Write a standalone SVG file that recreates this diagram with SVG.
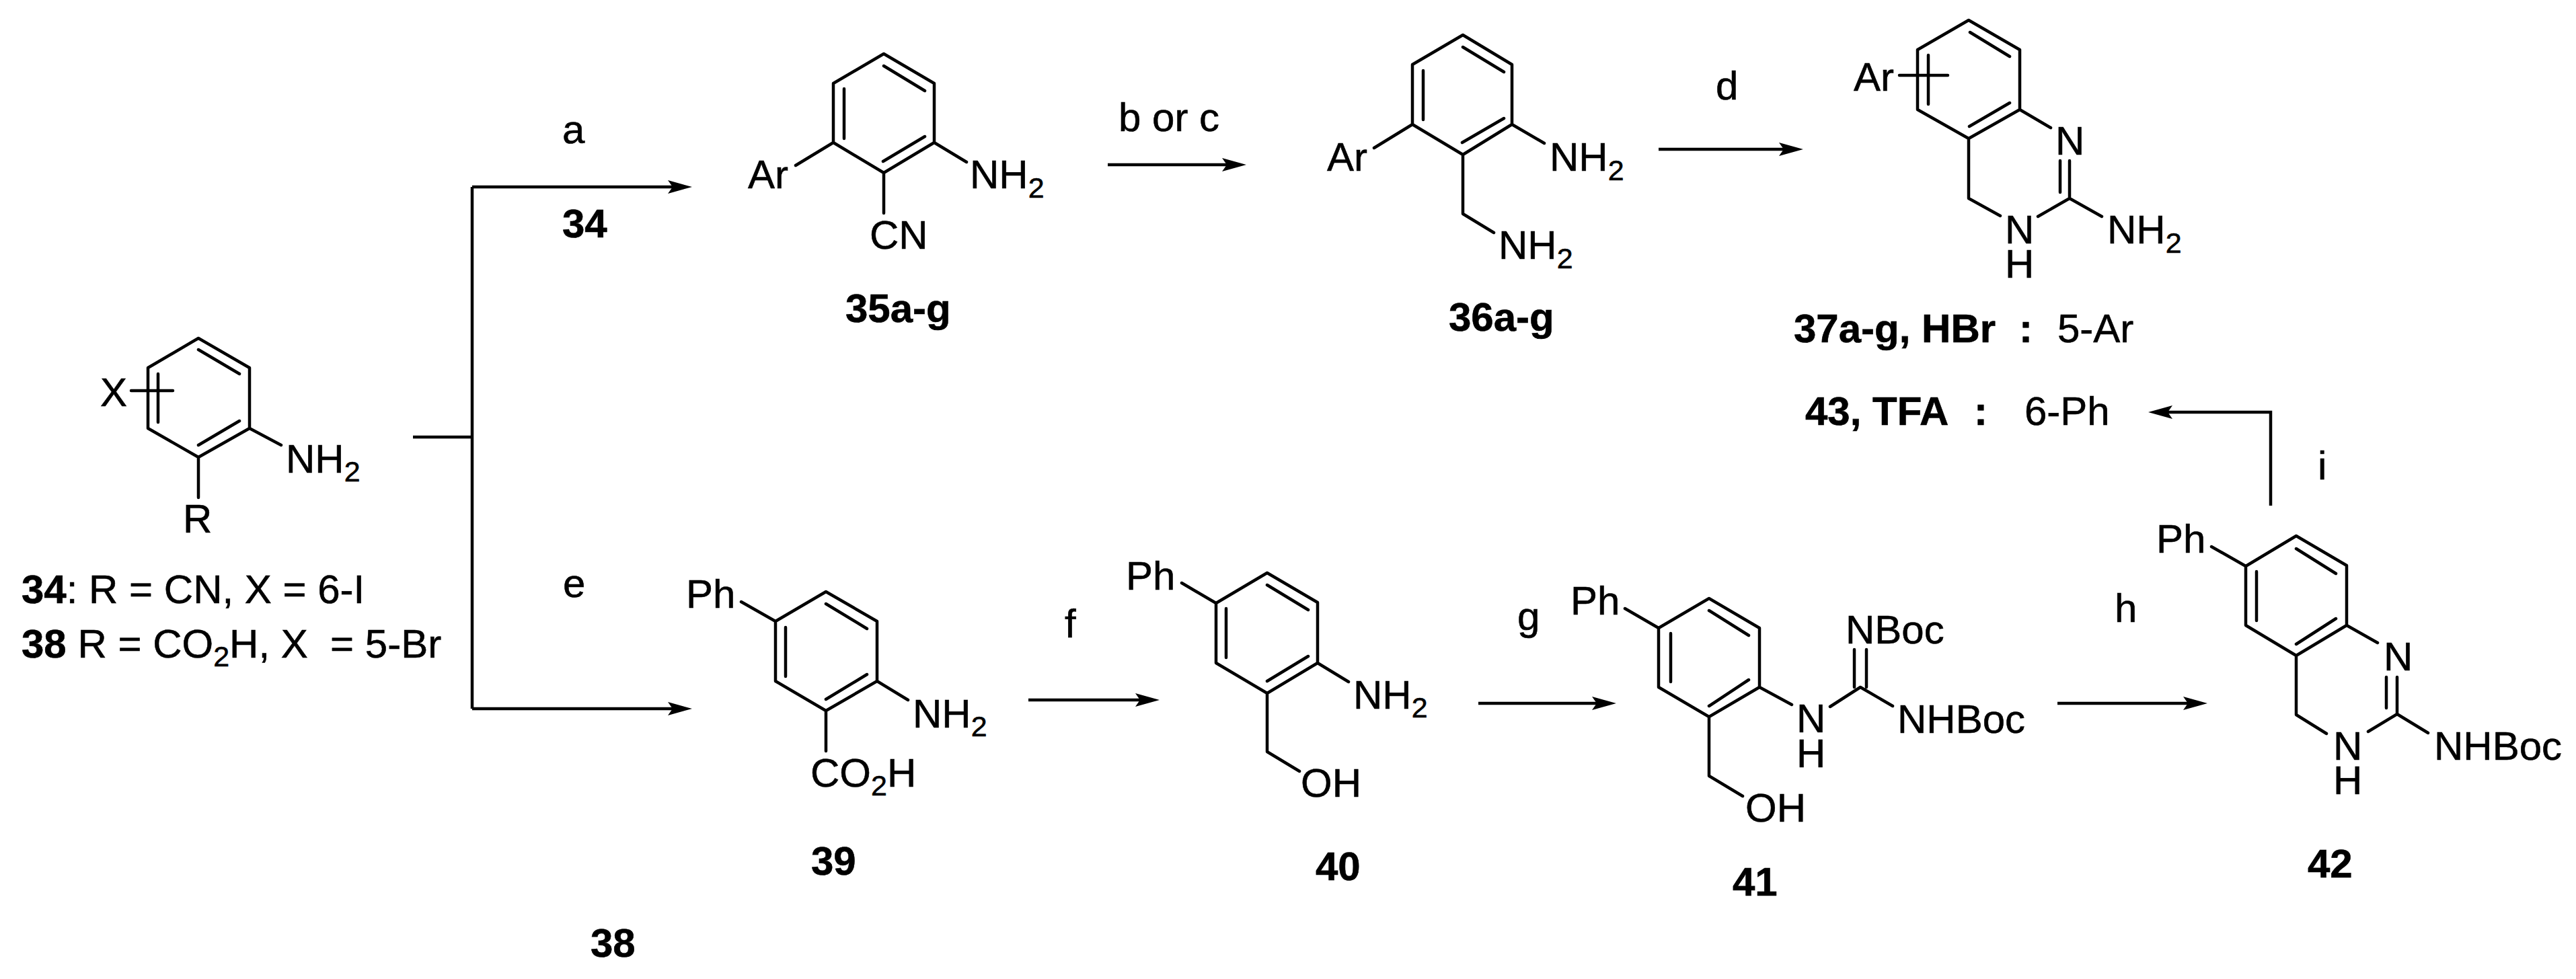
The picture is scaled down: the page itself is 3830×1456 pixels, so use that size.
<svg xmlns="http://www.w3.org/2000/svg" width="3830" height="1456" viewBox="0 0 3830 1456">
<style>
text{font-family:"Liberation Sans",Arial,sans-serif;font-size:60px;fill:#000;stroke:#000;stroke-width:.6;white-space:pre}
.l{font-weight:bold}
.s{font-size:43px}
.b{fill:none;stroke:#000;stroke-width:4.5;stroke-linejoin:round;stroke-linecap:round}
.c{fill:none;stroke:#000;stroke-width:4.5}
</style>
<defs>
<marker id="ah" markerUnits="userSpaceOnUse" markerWidth="38" markerHeight="24" refX="16" refY="11" orient="auto"><path d="M0,1 L36,11 L0,21 L7,11 Z" fill="#000"/></marker>
</defs>
<rect width="3830" height="1456" fill="#fff"/>
<g id="connectors">
<path class="c" d="M614,650H702"/>
<path class="c" d="M702,278V1054"/>
<path class="c" d="M702,278H1009" marker-end="url(#ah)"/>
<path class="c" d="M702,1054H1009" marker-end="url(#ah)"/>
<path class="c" d="M1647,245H1833" marker-end="url(#ah)"/>
<path class="c" d="M2466,222H2661" marker-end="url(#ah)"/>
<path class="c" d="M3376,752V613H3214" marker-end="url(#ah)"/>
<path class="c" d="M1529,1041H1704" marker-end="url(#ah)"/>
<path class="c" d="M2198,1046H2383" marker-end="url(#ah)"/>
<path class="c" d="M3059,1046H3262" marker-end="url(#ah)"/>
</g>
<g id="step-labels">
<text x="836" y="213">a</text>
<text x="1663" y="195">b or c</text>
<text x="2551" y="148">d</text>
<text x="837" y="888">e</text>
<text x="1583" y="948">f</text>
<text x="2256" y="937">g</text>
<text x="3144" y="925">h</text>
<text x="3446" y="713">i</text>
<text class="l" x="836" y="353">34</text>
<text class="l" x="878" y="1423">38</text>
</g>
<g id="n34">
<path class="b" d="M295,503L371,547L371,637L295,680L220,637L220,547Z M295,520L356,556 M295,662L356,626 M235,556V628 M195,581H257 M371,637L418,662 M295,680V740"/>
<text x="149" y="604">X</text>
<text x="425" y="703">NH<tspan class="s" dy="13">2</tspan></text>
<text x="272" y="792">R</text>
<text x="32" y="897"><tspan class="l">34</tspan>: R = CN, X = 6-I</text>
<text x="32" y="978"><tspan class="l">38</tspan> R = CO<tspan class="s" dy="13">2</tspan><tspan dy="-13">H, X  = 5-Br</tspan></text>
</g>
<g id="n35">
<path class="b" d="M1314,80L1389,124L1389,212L1314,257L1239,212L1239,124Z M1314,98L1375,135 M1255,132V206 M1313,240L1375,203 M1239,212L1183,246 M1389,212L1437,241 M1314,257V317"/>
<text x="1112" y="280">Ar</text>
<text x="1442" y="280">NH<tspan class="s" dy="14">2</tspan></text>
<text x="1293" y="370">CN</text>
<text class="l" x="1257" y="479">35a-g</text>
</g>
<g id="n36">
<path class="b" d="M2175,52L2248,96L2248,185L2175,230L2100,185L2100,96Z M2175,70L2236,107 M2116,105V178 M2174,212L2236,176 M2100,185L2043,220 M2248,185L2296,213 M2175,230V318L2221,346"/>
<text x="1973" y="254">Ar</text>
<text x="2304" y="254">NH<tspan class="s" dy="14">2</tspan></text>
<text x="2228" y="385">NH<tspan class="s" dy="14">2</tspan></text>
<text class="l" x="2154" y="492">36a-g</text>
</g>
<g id="n37-43">
<path class="b" d="M2927,30L3003,74L3003,163L2927,206L2851,163L2851,74Z M2929,48L2988,84 M2928,188L2988,153 M2867,82V155 M2824,112H2896 M3003,163L3049,190 M3077,239V295 M3063,239V286 M2927,206V295L2974,321 M3077,295L3030,322 M3077,295L3125,322"/>
<text x="2756" y="135">Ar</text>
<text x="3056" y="230">N</text>
<text x="2981" y="362">N<tspan x="2981" dy="51">H</tspan></text>
<text x="3133" y="362">NH<tspan class="s" dy="14">2</tspan></text>
<text x="2667" y="509"><tspan class="l">37a-g, HBr</tspan><tspan class="l" x="3002">:</tspan><tspan x="3059">5-Ar</tspan></text>
<text x="2684" y="632"><tspan class="l">43, TFA</tspan><tspan class="l" x="2935">:</tspan><tspan x="3010">6-Ph</tspan></text>
</g>
<g id="n39">
<path class="b" d="M1228,880L1304,924L1304,1013L1228,1057L1153,1013L1153,924Z M1228,898L1289,935 M1168,933V1006 M1228,1040L1289,1003 M1153,924L1102,895 M1304,1013L1350,1041 M1228,1057V1117"/>
<text x="1020" y="904">Ph</text>
<text x="1357" y="1082">NH<tspan class="s" dy="13">2</tspan></text>
<text x="1205" y="1170">CO<tspan class="s" dy="13">2</tspan><tspan dy="-13">H</tspan></text>
<text class="l" x="1206" y="1301">39</text>
</g>
<g id="n40">
<path class="b" d="M1884,852L1959,896L1959,986L1884,1031L1808,986L1808,897Z M1884,870L1945,907 M1823,905V978 M1884,1013L1945,976 M1808,897L1757,867 M1959,986L2005,1014 M1884,1031V1118L1932,1147"/>
<text x="1674" y="877">Ph</text>
<text x="2012" y="1054">NH<tspan class="s" dy="13">2</tspan></text>
<text x="1934" y="1185">OH</text>
<text class="l" x="1956" y="1309">40</text>
</g>
<g id="n41">
<path class="b" d="M2541,890L2616,934L2616,1022L2541,1066L2466,1022L2466,934Z M2541,908L2600,945 M2484,942V1014 M2541,1050L2600,1011 M2466,934L2416,905 M2616,1022L2664,1048 M2721,1051L2766,1022L2814,1050 M2757,966V1022 M2775,966V1022 M2541,1066V1154L2591,1184"/>
<text x="2335" y="914">Ph</text>
<text x="2671" y="1089">N<tspan x="2671" dy="52">H</tspan></text>
<text x="2821" y="1090">NHBoc</text>
<text x="2744" y="957">NBoc</text>
<text x="2595" y="1222">OH</text>
<text class="l" x="2576" y="1332">41</text>
</g>
<g id="n42">
<path class="b" d="M3414,797L3489,841L3489,930L3414,975L3339,930L3339,842Z M3414,816L3473,853 M3355,850V923 M3414,958L3473,920 M3339,842L3288,813 M3489,930L3535,956 M3564,1007V1062 M3548,1007V1053 M3414,975V1063L3459,1091 M3521,1088L3564,1062L3610,1090"/>
<text x="3206" y="822">Ph</text>
<text x="3544" y="997">N</text>
<text x="3469" y="1130">N<tspan x="3469" dy="51">H</tspan></text>
<text x="3619" y="1130">NHBoc</text>
<text class="l" x="3431" y="1305">42</text>
</g>
</svg>
